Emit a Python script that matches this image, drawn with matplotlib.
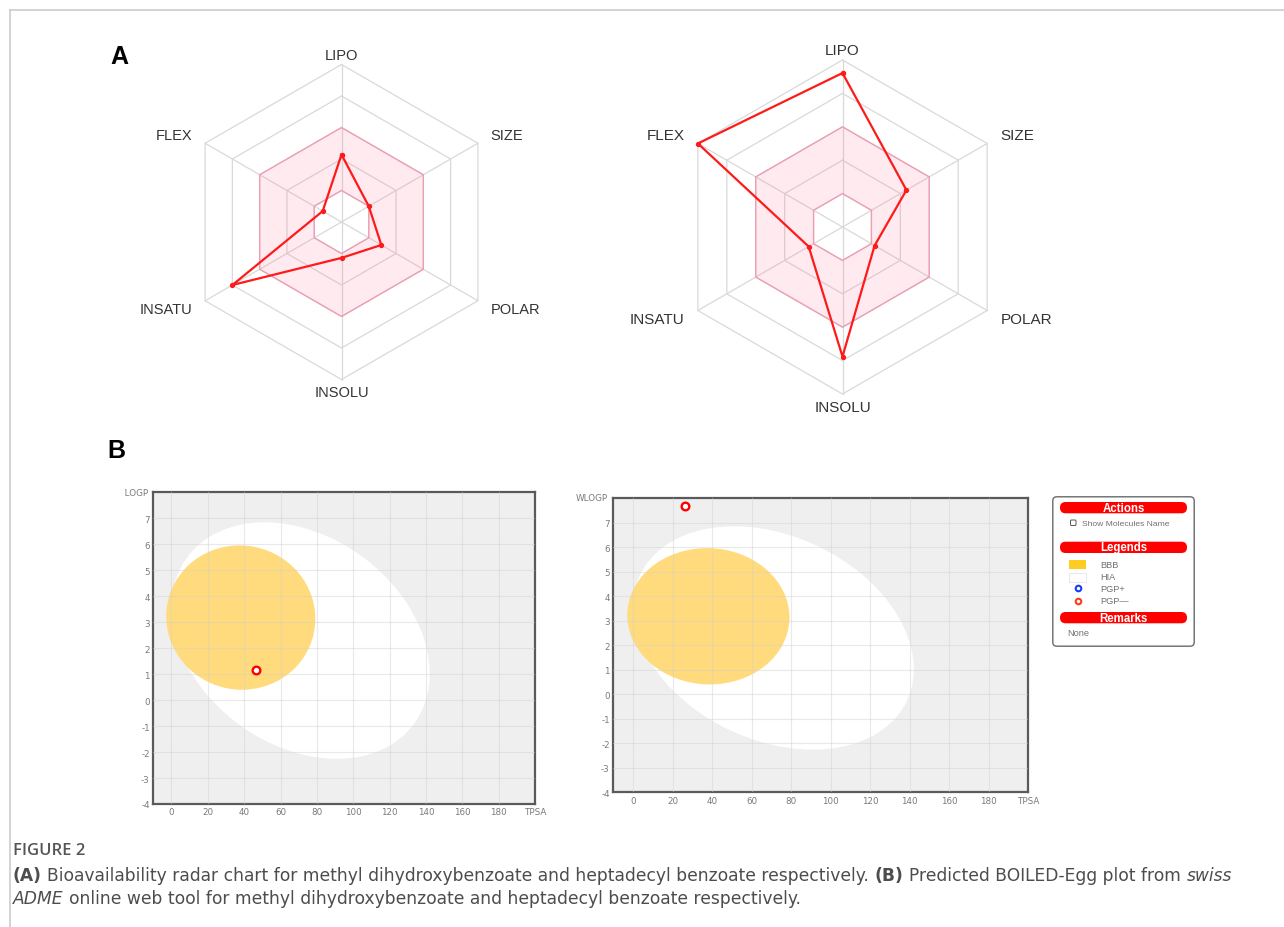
import numpy as np
import matplotlib
matplotlib.use("Agg")
import matplotlib.pyplot as plt
from matplotlib.patches import Ellipse, FancyBboxPatch, Rectangle, PathPatch
from matplotlib.path import Path
from matplotlib.transforms import Bbox, TransformedBbox

W, H = 1284, 928

# bioavailability radar (0-5 scale on each axis)
radar_axes = ["LIPO", "SIZE", "POLAR", "INSOLU", "INSATU", "FLEX"]
radar_angles = [90, 30, -30, -90, -150, 150]
radar_methyl = [2.14, 1.00, 1.46, 1.14, 4.00, 0.69]
radar_heptadecyl = [4.61, 2.21, 1.11, 3.88, 1.17, 5.00]

# BOILED-Egg: one molecule per plot
egg_tpsa = [46.53, 26.30]
egg_wlogp = [1.17, 7.68]
tpsa_ticks = list(range(0, 181, 20))
wlogp_ticks = list(range(-4, 8))

# egg regions (center, width, height, angle in degrees)
hia_ellipse = (71.051, 2.292, 142.081, 8.740, -1.031325)
bbb_ellipse = (38.117, 3.177, 82.061, 5.557, -0.066326)

GRID = "#d9d9d9"
PINK_FILL = (1.0, 0.45, 0.6, 0.15)
PINK_EDGE = (0.95, 0.55, 0.66, 0.75)
RED = "#ff1a1a"
YOLK = "#ffdb7d"


def rect(x0, y0, x1, y1):
    return [x0 / W, 1 - y1 / H, (x1 - x0) / W, (y1 - y0) / H]


def hexagon(r):
    a = np.deg2rad(radar_angles)
    return np.column_stack([r * np.cos(a), r * np.sin(a)])


def draw_radar(ax, values, fs):
    # pink "optimal" band between rings 1 and 3
    outer = hexagon(3)
    inner = hexagon(1)[::-1]
    verts = np.vstack([outer, outer[:1], inner, inner[:1]])
    codes = ([Path.MOVETO] + [Path.LINETO] * 5 + [Path.CLOSEPOLY]) * 2
    ax.add_patch(PathPatch(Path(verts, codes), facecolor=PINK_FILL,
                           edgecolor=PINK_EDGE, lw=1.0, zorder=2))

    for r in range(1, 6):
        ring = hexagon(r)
        ring = np.vstack([ring, ring[:1]])
        ax.plot(ring[:, 0], ring[:, 1], color=GRID, lw=0.9, zorder=1)
    for x, y in hexagon(5):
        ax.plot([0, x], [0, y], color=GRID, lw=0.9, zorder=1)

    pts = hexagon(1) * np.array(values)[:, None]
    pts = np.vstack([pts, pts[:1]])
    ax.plot(pts[:, 0], pts[:, 1], color=RED, lw=1.6, marker="o",
            ms=2.8, zorder=4)

    for name, (x, y) in zip(radar_axes, hexagon(5)):
        if abs(x) < 1e-6:
            ty = 5.3 if y > 0 else -5.4
            ax.text(0, ty, name, ha="center", va="center", fontsize=fs,
                    color="#333333", family="Liberation Sans")
        else:
            tx = x + 0.4 * np.sign(x)
            ty = y + 0.25 * np.sign(y)
            ax.text(tx, ty, name, ha="left" if x > 0 else "right",
                    va="center", fontsize=fs, color="#333333",
                    family="Liberation Sans")

    ax.set_xlim(-6.6, 6.6)
    ax.set_ylim(-6.6, 6.6)
    ax.set_aspect("equal")
    ax.axis("off")


def radar_rect(cx, cy, unit, half=6.6):
    s = half * unit
    return rect(cx - s, cy - s, cx + s, cy + s)


def draw_egg(ax, tpsa, wlogp, clip_left=None):
    ax.set_facecolor("#efefef")
    cx, cy, w, h, ang = hia_ellipse
    ax.add_patch(Ellipse((cx, cy), w, h, angle=ang, fc="white", ec="none",
                         zorder=1))
    cx, cy, w, h, ang = bbb_ellipse
    ax.add_patch(Ellipse((cx, cy), w, h, angle=ang, fc=YOLK, ec="none",
                         zorder=2))

    for t in tpsa_ticks:
        ax.axvline(t, color="#d0d0d0", lw=0.8, alpha=0.45, zorder=3)
    for t in wlogp_ticks:
        ax.axhline(t, color="#d0d0d0", lw=0.8, alpha=0.45, zorder=3)

    ax.plot([tpsa], [wlogp], ls="none", marker="o", ms=5.5, mfc="white",
            mec="#ff0000", mew=1.7, zorder=5)

    ax.set_xlim(-10, 200)
    ax.set_ylim(-4, 8)
    ax.set_xticks(tpsa_ticks + [200])
    ax.set_xticklabels([str(t) for t in tpsa_ticks] + ["TPSA"])
    ax.set_yticks(wlogp_ticks + [8])
    ax.set_yticklabels([str(t) for t in wlogp_ticks] + [""])
    ax.tick_params(length=0, labelsize=6.3, labelcolor="#7a7a7a", pad=2.5)
    for sp in ax.spines.values():
        sp.set_color("#5a5a5a")
        sp.set_linewidth(1.6)

    lab = ax.text(-0.012, 1.0, "WLOGP", transform=ax.transAxes, ha="right",
                  va="center", fontsize=6.3, color="#7a7a7a")
    if clip_left is not None:
        box = Bbox([[clip_left / W, 0], [1, 1]])
        lab.set_clip_box(TransformedBbox(box, fig.transFigure))
        lab.set_clip_on(True)


fig = plt.figure(figsize=(W / 100, H / 100), dpi=100)
fig.patch.set_facecolor("white")

# page border lines
fig.add_artist(plt.Line2D([9.5 / W, 9.5 / W], [0, 1 - 11 / H],
                          color="#cccccc", lw=1.2))
fig.add_artist(plt.Line2D([9.5 / W, 1], [1 - 11 / H, 1 - 11 / H],
                          color="#cccccc", lw=1.2))

fig.text(119 / W, 1 - 57.5 / H, "A", fontsize=18, fontweight="bold",
         ha="center", va="center", family="Liberation Sans")
fig.text(116.5 / W, 1 - 451 / H, "B", fontsize=18, fontweight="bold",
         ha="center", va="center", family="Liberation Sans")

ax_r1 = fig.add_axes(radar_rect(341.5, 223, 31.5))
draw_radar(ax_r1, radar_methyl, 10.5)
ax_r2 = fig.add_axes(radar_rect(842.5, 228, 33.4))
draw_radar(ax_r2, radar_heptadecyl, 11)

ax_e1 = fig.add_axes(rect(153.3, 493.3, 535, 805))
draw_egg(ax_e1, egg_tpsa[0], egg_wlogp[0], clip_left=125)
ax_e2 = fig.add_axes(rect(613.3, 499, 1028.3, 793.3))
draw_egg(ax_e2, egg_tpsa[1], egg_wlogp[1])

# side panel with actions / legends / remarks
axp = fig.add_axes(rect(1052, 497, 1195, 648))
axp.set_xlim(0, 143)
axp.set_ylim(151, 0)
axp.axis("off")
axp.add_patch(FancyBboxPatch((0.8, 0.8), 141.4, 149.4,
                             boxstyle="round,pad=0,rounding_size=4",
                             fc="white", ec="#6a6a6a", lw=1.0))
for y, title in [(6, "Actions"), (45.7, "Legends"), (116, "Remarks")]:
    axp.add_patch(FancyBboxPatch((8, y), 127, 11.3,
                                 boxstyle="round,pad=0,rounding_size=5.6",
                                 fc="#ff0000", ec="none"))
    axp.text(71.5, y + 5.8, title, ha="center", va="center", fontsize=8.3,
             fontweight="bold", color="white", family="Liberation Sans")
axp.add_patch(FancyBboxPatch((18.5, 24), 5.5, 5.5,
                             boxstyle="round,pad=0,rounding_size=1",
                             fc="white", ec="#555555", lw=0.7))
small = dict(fontsize=6.1, color="#707070", va="center",
             family="Liberation Sans")
axp.text(30, 27, "Show Molecules Name", **small)
axp.add_patch(Rectangle((17, 64), 17, 8.5, fc="#ffcc22", ec="none"))
axp.add_patch(Rectangle((17, 77), 17, 8.5, fc="white", ec="#e4e4e4",
                        lw=0.6))
axp.plot([25.5], [92], marker="o", ms=4, mfc="white", mec="#1a3cff",
         mew=1.5)
axp.plot([25.5], [105], marker="o", ms=4, mfc="white", mec="#ff3b1a",
         mew=1.5)
legend_small = {**small, "fontsize": 6.6}
for y, s in [(68, "BBB"), (81, "HIA"), (92, "PGP+"), (105, "PGP\u2014")]:
    axp.text(48.5, y, s, **legend_small)
axp.text(15, 136, "None", **legend_small)

# caption
renderer = fig.canvas.get_renderer()
cap = dict(fontsize=12.3, color="#4d4d4d", family="DejaVu Sans",
           va="center", ha="left")


def text_run(x, y, pieces):
    probe = fig.text(0, 0, "a a", **cap)
    p2 = fig.text(0, 0, "aa", **cap)
    gap = (probe.get_window_extent(renderer=renderer).width
           - p2.get_window_extent(renderer=renderer).width)
    probe.remove()
    p2.remove()
    for s, style in pieces:
        t = fig.text(x / W, 1 - y / H, s, **{**cap, **style})
        x += t.get_window_extent(renderer=renderer).width + gap


fig.text(13 / W, 1 - 851 / H, "FIGURE 2", **{**cap, "fontsize": 12,
                                              "family": "Open Sans",
                                              "fontweight": "semibold",
                                              "color": "#555555"})
text_run(13, 876, [
    ("(A)", {"fontweight": "bold"}),
    ("Bioavailability radar chart for methyl dihydroxybenzoate and "
     "heptadecyl benzoate respectively.", {}),
    ("(B)", {"fontweight": "bold"}),
    ("Predicted BOILED-Egg plot from", {}),
    ("swiss", {"style": "italic"}),
])
text_run(13, 899, [
    ("ADME", {"style": "italic"}),
    ("online web tool for methyl dihydroxybenzoate and heptadecyl "
     "benzoate respectively.", {}),
])

fig.savefig("out.png", dpi=100)
